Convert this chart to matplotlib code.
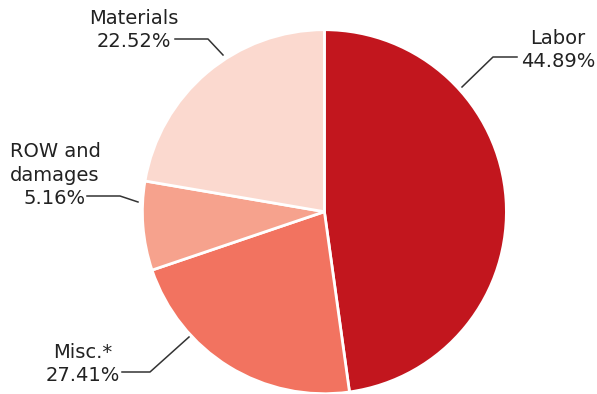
import matplotlib.pyplot as plt

# wedge sizes as drawn in the picture (clockwise from 12 o'clock)
names = ["Labor", "Misc.*", "ROW and\ndamages", "Materials"]
shares = [47.8, 22.0, 7.9, 22.3]
pct_labels = ["44.89%", "27.41%", "5.16%", "22.52%"]
colors = ["#c2161e", "#f27360", "#f6a28d", "#fbd9cf"]

W, H = 597, 394


def main():
    fig = plt.figure(figsize=(W / 100, H / 100), dpi=100)
    ax = fig.add_axes([0, 0, 1, 1])

    ax.pie(shares, colors=colors, startangle=90, counterclock=False,
           center=(324.4, H - 211.7), radius=182, frame=True,
           wedgeprops=dict(edgecolor="white", linewidth=2))
    ax.set_xlim(0, W)
    ax.set_ylim(0, H)
    ax.set_aspect("equal")
    ax.axis("off")

    # label text: (x centre, y centre of the percent line), leader polyline
    layout = [
        ((558, 60), [(517, 57), (493, 57), (462, 87)]),
        ((83, 374), [(122, 372), (150, 372), (189, 337)]),
        ((55, 197), [(87, 196), (120, 196), (138, 202)]),
        ((134, 40), [(175, 39), (208, 39), (223, 55)]),
    ]
    for name, pct, ((tx, ty), pts) in zip(names, pct_labels, layout):
        lines = name.split("\n") + [pct]
        for k, line in enumerate(reversed(lines)):
            ax.text(tx, H - (ty + 7) + k * 23.5, line, ha="center", va="baseline",
                    fontsize=14, color="#222222", family="DejaVu Sans")
        xs = [p[0] for p in pts]
        ys = [H - p[1] for p in pts]
        ax.plot(xs, ys, color="#333333", lw=1.1)

    fig.savefig("out.png", dpi=100)
    plt.close(fig)


if __name__ == '__main__':
    main()
